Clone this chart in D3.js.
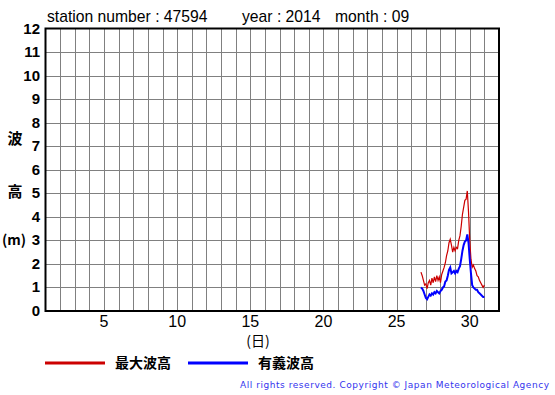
<!DOCTYPE html>
<html>
<head>
<meta charset="utf-8">
<script src="https://cdn.jsdelivr.net/npm/d3@7"></script>
<style>
  body { margin: 0; background: #fff; }
  svg { display: block; }
</style>
</head>
<body>
<div id="chart"></div>
<script>
// hours counted from Sep 26 00:00 (JST)
const hours = [16, 18, 20, 22, 24, 26, 28, 30, 32, 34, 36, 38, 40, 42, 44, 46, 48, 50, 52, 54,
  56, 58, 60, 62, 64, 66, 68, 70, 72, 74, 76, 78, 80, 82, 84, 86, 88, 90, 92, 94,
  96, 98, 100, 102, 104, 106, 108, 110, 112, 114, 116, 118, 120];
const maxWave = [1.65, 1.5, 1.3, 1.1, 1.15, 0.95, 1.2, 1.3, 1.1, 1.4, 1.2, 1.45, 1.25, 1.5, 1.3, 1.45, 1.2, 1.55, 1.7, 1.85,
  2.05, 2.35, 2.55, 2.9, 3.05, 2.8, 2.5, 2.7, 2.55, 2.7, 2.65, 3.0, 3.2, 3.6, 4.1, 4.4, 4.7, 4.75, 5.1, 4.2,
  3.0, 2.2, 1.85, 1.95, 1.8, 1.7, 1.5, 1.45, 1.3, 1.2, 1.1, 1.0, 1.1];
const sigWave = [1.0, 0.95, 0.85, 0.7, 0.55, 0.5, 0.6, 0.7, 0.65, 0.75, 0.7, 0.8, 0.75, 0.85, 0.8, 0.75, 0.85, 0.9, 1.0, 1.05,
  1.25, 1.3, 1.5, 1.75, 1.85, 1.6, 1.65, 1.7, 1.6, 1.7, 1.65, 1.8, 1.9, 2.2, 2.55, 2.8, 2.95, 3.0, 3.25, 2.9,
  2.2, 1.6, 1.1, 1.0, 0.95, 0.9, 0.9, 0.8, 0.75, 0.7, 0.65, 0.6, 0.6];
const xTicks = [5, 10, 15, 20, 25, 30];
const yTicks = [0, 1, 2, 3, 4, 5, 6, 7, 8, 9, 10, 11, 12];
const startDay = 26;

const width = 555, height = 395;
const plot = { left: 45.5, right: 499, top: 28.5, bottom: 311 };

const svg = d3.select("#chart").append("svg")
  .attr("width", width)
  .attr("height", height);

const x = d3.scaleLinear().domain([1, 32]).range([plot.left, plot.right]);
const y = d3.scaleLinear().domain([0, 12]).range([plot.bottom, plot.top]);

// grid
svg.append("g")
  .selectAll("line")
  .data(d3.range(2, 32))
  .enter().append("line")
  .attr("x1", d => Math.round(x(d)) + 0.5)
  .attr("x2", d => Math.round(x(d)) + 0.5)
  .attr("y1", plot.top)
  .attr("y2", plot.bottom)
  .attr("stroke", "#808080")
  .attr("stroke-width", 1);

svg.append("g")
  .selectAll("line")
  .data(yTicks.slice(1, -1))
  .enter().append("line")
  .attr("x1", plot.left)
  .attr("x2", plot.right)
  .attr("y1", d => Math.round(y(d)) + 0.5)
  .attr("y2", d => Math.round(y(d)) + 0.5)
  .attr("stroke", "#808080")
  .attr("stroke-width", 1);

// data lines
const toDay = h => startDay + h / 24;

const line = d3.line()
  .x(d => x(toDay(d[0])))
  .y(d => y(d[1]));

svg.append("path")
  .datum(hours.map((h, i) => [h, maxWave[i]]))
  .attr("fill", "none")
  .attr("stroke", "#cc0000")
  .attr("stroke-width", 1.2)
  .attr("d", line);

svg.append("path")
  .datum(hours.map((h, i) => [h, sigWave[i]]))
  .attr("fill", "none")
  .attr("stroke", "#0000ff")
  .attr("stroke-width", 2)
  .attr("d", line);

// frame
svg.append("rect")
  .attr("x", plot.left)
  .attr("y", plot.top)
  .attr("width", plot.right - plot.left)
  .attr("height", plot.bottom - plot.top)
  .attr("fill", "none")
  .attr("stroke", "#000")
  .attr("stroke-width", 2);

// axis labels
svg.append("g")
  .selectAll("text")
  .data(yTicks)
  .enter().append("text")
  .attr("x", 40)
  .attr("y", d => y(d) + 5)
  .attr("text-anchor", "end")
  .attr("font-family", "Liberation Sans, Arial, sans-serif")
  .attr("font-weight", "bold")
  .attr("font-size", 15)
  .text(d => d);

svg.append("g")
  .selectAll("text")
  .data(xTicks)
  .enter().append("text")
  .attr("x", d => x(d))
  .attr("y", 327)
  .attr("text-anchor", "middle")
  .attr("font-family", "Liberation Sans, Arial, sans-serif")
  .attr("font-size", 16)
  .text(d => d);

const cjk = "Noto Sans CJK JP, sans-serif";

svg.append("text")
  .attr("x", 258).attr("y", 346)
  .attr("text-anchor", "middle")
  .attr("font-family", cjk)
  .attr("font-size", 14)
  .text("(日)");

[["波", 144], ["高", 197]].forEach(([t, yy]) => {
  svg.append("text")
    .attr("x", 15).attr("y", yy)
    .attr("text-anchor", "middle")
    .attr("font-family", cjk)
    .attr("font-weight", "bold")
    .attr("font-size", 15)
    .text(t);
});
svg.append("text")
  .attr("x", 14).attr("y", 245)
  .attr("text-anchor", "middle")
  .attr("font-family", cjk)
  .attr("font-weight", "bold")
  .attr("font-size", 14)
  .text("(m)");

// title
const titleFont = "Liberation Sans, Arial, sans-serif";
[["station number : 47594", 47], ["year : 2014", 242], ["month : 09", 335]].forEach(([t, xx]) => {
  svg.append("text")
    .attr("x", xx).attr("y", 22)
    .attr("font-family", titleFont)
    .attr("font-size", 15.7)
    .text(t);
});

// legend
const legend = [
  { label: "最大波高", color: "#cc0000", x0: 45 },
  { label: "有義波高", color: "#0000ff", x0: 188 }
];
legend.forEach(d => {
  svg.append("line")
    .attr("x1", d.x0).attr("x2", d.x0 + 60)
    .attr("y1", 363).attr("y2", 363)
    .attr("stroke", d.color)
    .attr("stroke-width", 3);
  svg.append("text")
    .attr("x", d.x0 + 70).attr("y", 368)
    .attr("font-family", cjk)
    .attr("font-weight", "bold")
    .attr("font-size", 14)
    .text(d.label);
});

svg.append("text")
  .attr("x", 549).attr("y", 388)
  .attr("text-anchor", "end")
  .attr("font-family", "DejaVu Sans, sans-serif")
  .attr("font-size", 9)
  .attr("fill", "#3333ee")
  .attr("textLength", 309)
  .attr("lengthAdjust", "spacing")
  .text("All rights reserved. Copyright © Japan Meteorological Agency");
</script>
</body>
</html>
